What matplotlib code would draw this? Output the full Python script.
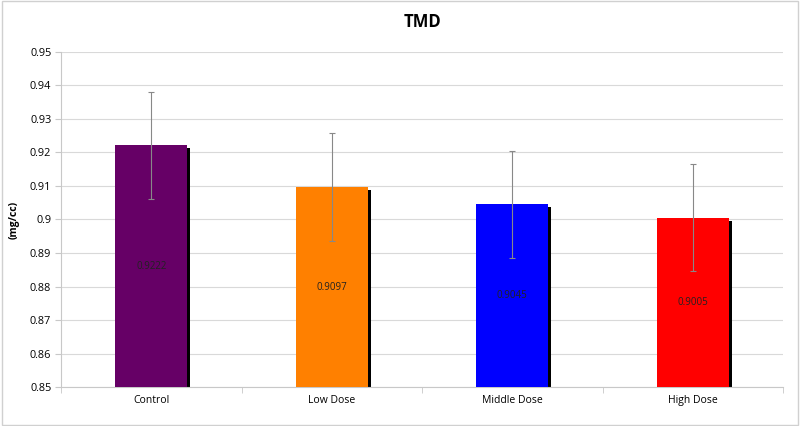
import matplotlib
matplotlib.use('Agg')
from matplotlib import pyplot as plt
from matplotlib.patches import Rectangle
import numpy as np

groups = ['Control', 'Low Dose', 'Middle Dose', 'High Dose']
tmd = [0.9222, 0.9097, 0.9045, 0.9005]
err = [0.016, 0.016, 0.016, 0.016]
colors = ['#660066', '#FF8000', '#0000FF', '#FF0000']

plt.rcParams['font.family'] = ['Open Sans', 'DejaVu Sans']

fig = plt.figure(figsize=(8, 4.26), dpi=100)
ax = fig.add_axes([0.07625, 0.0915, 0.9025, 0.7865])
fig.patches.append(Rectangle((0.002, 0.002), 0.996, 0.995, transform=fig.transFigure,
                             fill=False, edgecolor='#d0d0d0', linewidth=1))

x = np.arange(len(groups))
w = 0.4
# shadow
ax.bar(x + 0.016, np.array(tmd) - 0.85, w, bottom=0.85 - 0.0009, color='black', zorder=2)
ax.bar(x, np.array(tmd) - 0.85, w, bottom=0.85, color=colors, zorder=3)
ax.errorbar(x, tmd, yerr=err, fmt='none', ecolor='#888888', elinewidth=0.8,
            capsize=2, capthick=0.8, zorder=4)

for xi, v in zip(x, tmd):
    ax.text(xi, (0.85 + v) / 2, f'{v:.4f}'.rstrip('0'), ha='center', va='center',
            fontsize=7, color='#222222', zorder=5)

ax.set_xlim(-0.5, len(groups) - 0.5)
ax.set_ylim(0.85, 0.95)
ax.set_yticks(np.arange(0.85, 0.951, 0.01))
ax.set_yticklabels(['0.85', '0.86', '0.87', '0.88', '0.89', '0.9', '0.91', '0.92', '0.93', '0.94', '0.95'])
ax.set_xticks(x)
ax.set_xticklabels(groups)
ax.set_xticks(np.arange(-0.5, len(groups)), minor=True)
ax.tick_params(axis='x', which='major', length=0, labelsize=7.5, pad=6)
ax.tick_params(axis='x', which='minor', length=4, color='#c8c8c8')
ax.tick_params(axis='y', length=4, color='#c8c8c8', labelsize=7.8, pad=3)
ax.grid(axis='y', color='#d9d9d9', linewidth=0.8, zorder=0)
ax.set_axisbelow(True)
for s in ['top', 'right']:
    ax.spines[s].set_visible(False)
ax.spines['left'].set_color('#c8c8c8')
ax.spines['bottom'].set_color('#c8c8c8')

ax.set_ylabel('(mg/cc)', fontsize=7.5, fontweight='bold', labelpad=7)
ax.set_title('TMD', fontsize=12, fontweight='bold', pad=18)

fig.savefig('out.png', dpi=100)
